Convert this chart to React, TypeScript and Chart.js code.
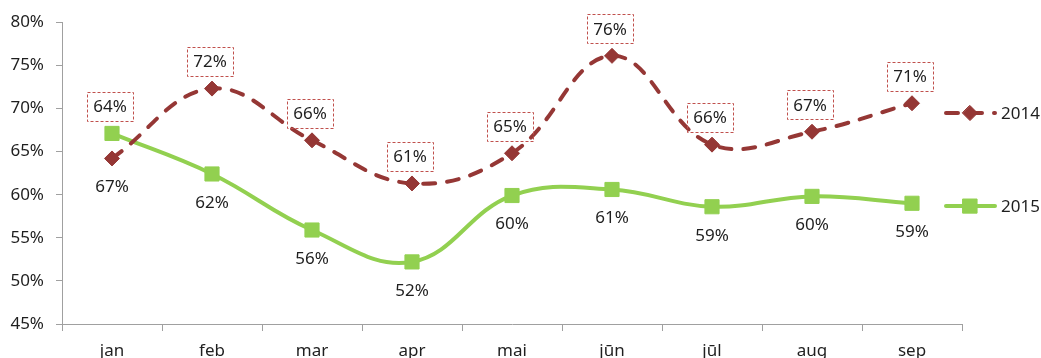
import React, { useEffect, useRef } from 'react';
import { Chart, registerables } from 'chart.js';

Chart.register(...registerables);

const months = ['jan', 'feb', 'mar', 'apr', 'mai', 'jūn', 'jūl', 'aug', 'sep'];
const values2014 = [64.2, 72.3, 66.3, 61.3, 64.8, 76.1, 65.8, 67.3, 70.6];
const values2015 = [67.1, 62.4, 55.9, 52.2, 59.9, 60.6, 58.6, 59.8, 59.0];
const seriesNames = ['2014', '2015'];
const yMin = 45;
const yMax = 80;
const yStep = 5;

const RED = '#953735';
const GREEN = '#92D050';
const TEXT = '#1f1f1f';
const AXIS = '#a0a0a0';
const FONT = '"Noto Sans", "Liberation Sans", sans-serif';

const W = 1041;
const H = 370;

const pct = (v: number) => Math.round(v) + '%';

const labelPlugin = {
  id: 'valueLabels',
  afterDatasetsDraw(chart: any) {
    const ctx = chart.ctx as CanvasRenderingContext2D;
    const m0 = chart.getDatasetMeta(0);
    const m1 = chart.getDatasetMeta(1);
    ctx.save();
    ctx.font = '17px ' + FONT;
    ctx.textAlign = 'center';
    ctx.textBaseline = 'middle';
    m0.data.forEach((p: any, i: number) => {
      const q = m1.data[i];
      const top = Math.min(p.y, q.y);
      const bottom = Math.max(p.y, q.y);
      // 2014 label in dashed box above
      const t0 = pct(values2014[i]);
      const cy = top - 27;
      const w = Math.round(ctx.measureText(t0).width + 12);
      const h = 29;
      ctx.setLineDash([3, 2]);
      ctx.strokeStyle = '#C0504D';
      ctx.lineWidth = 1;
      ctx.strokeRect(Math.round(p.x - 2 - w / 2) + 0.5, Math.round(cy - h / 2) + 0.5, w, h);
      ctx.setLineDash([]);
      ctx.fillStyle = TEXT;
      ctx.fillText(t0, p.x - 2, cy + 1);
      // 2015 label below
      const t1 = pct(values2015[i]);
      ctx.fillText(t1, q.x, bottom + 29);
    });
    ctx.restore();
  },
  afterDraw(chart: any) {
    const ctx = chart.ctx as CanvasRenderingContext2D;
    const ca = chart.chartArea;
    const mid = (ca.top + ca.bottom) / 2;
    const items = [
      { name: seriesNames[0], y: mid - 60, color: RED, dash: [12, 12], style: 'rectRot', r: 7.5, lw: 4 },
      { name: seriesNames[1], y: mid + 33, color: GREEN, dash: [], style: 'rect', r: 10, lw: 4 },
    ];
    ctx.save();
    items.forEach((it) => {
      const x0 = ca.right - 16;
      const x1 = ca.right + 33;
      ctx.beginPath();
      ctx.setLineDash(it.dash);
      ctx.lineCap = 'round';
      ctx.strokeStyle = it.color;
      ctx.lineWidth = it.lw;
      ctx.moveTo(x0, it.y);
      ctx.lineTo(x1, it.y);
      ctx.stroke();
      ctx.setLineDash([]);
      ctx.fillStyle = it.color;
      ctx.strokeStyle = it.color;
      ctx.lineWidth = 1;
      const cx = ca.right + 8;
      ctx.beginPath();
      if (it.style === 'rect') {
        const s = it.r * Math.SQRT1_2;
        ctx.rect(cx - s, it.y - s, 2 * s, 2 * s);
      } else {
        ctx.moveTo(cx, it.y - it.r);
        ctx.lineTo(cx + it.r, it.y);
        ctx.lineTo(cx, it.y + it.r);
        ctx.lineTo(cx - it.r, it.y);
        ctx.closePath();
      }
      ctx.fill();
      ctx.stroke();
      ctx.fillStyle = TEXT;
      ctx.font = '17px ' + FONT;
      ctx.textAlign = 'left';
      ctx.textBaseline = 'middle';
      ctx.fillText(it.name, x1 + 6, it.y + 1);
    });
    ctx.restore();
  },
};

export default function App() {
  const ref = useRef<HTMLCanvasElement | null>(null);
  useEffect(() => {
    if (!ref.current) return;
    const chart = new Chart(ref.current, {
      type: 'line',
      data: {
        labels: months,
        datasets: [
          {
            label: seriesNames[0],
            data: values2014,
            borderColor: RED,
            backgroundColor: RED,
            borderWidth: 4,
            borderDash: [12, 12],
            borderCapStyle: 'round',
            tension: 0.4,
            pointStyle: 'rectRot',
            pointRadius: 7.5,
            pointBorderWidth: 1,
            pointBackgroundColor: RED,
            pointBorderColor: RED,
            fill: false,
          },
          {
            label: seriesNames[1],
            data: values2015,
            borderColor: GREEN,
            backgroundColor: GREEN,
            borderWidth: 4,
            tension: 0.4,
            pointStyle: 'rect',
            pointRadius: 10,
            pointBorderWidth: 1,
            pointBackgroundColor: GREEN,
            pointBorderColor: GREEN,
            fill: false,
          },
        ],
      },
      options: {
        responsive: false,
        animation: false,
        layout: { padding: { top: 21, right: 79, left: 0, bottom: 0 } },
        plugins: {
          legend: { display: false },
          tooltip: { enabled: false },
        },
        scales: {
          x: {
            offset: true,
            grid: { offset: true, drawOnChartArea: false, drawTicks: true, tickLength: 7, color: AXIS },
            border: { color: AXIS, width: 1 },
            ticks: { color: TEXT, font: { family: FONT, size: 17 }, padding: 10, maxRotation: 0 },
            afterFit: (s: any) => { s.height = H - 324; },
          },
          y: {
            min: yMin,
            max: yMax,
            ticks: {
              stepSize: yStep,
              color: TEXT,
              font: { family: FONT, size: 17 },
              padding: 12,
              callback: (v: any) => v + '%',
            },
            grid: { drawOnChartArea: false, drawTicks: true, tickLength: 6, color: AXIS },
            border: { color: AXIS, width: 1 },
            afterFit: (s: any) => { s.width = 62; },
          },
        },
      },
      plugins: [labelPlugin],
    });
    return () => chart.destroy();
  }, []);
  return (
    <div style={{ position: 'absolute', left: 0, top: 0, width: W, height: H, background: '#fff' }}>
      <canvas ref={ref} width={W} height={H} style={{ width: W, height: H, display: 'block' }} />
    </div>
  );
}
